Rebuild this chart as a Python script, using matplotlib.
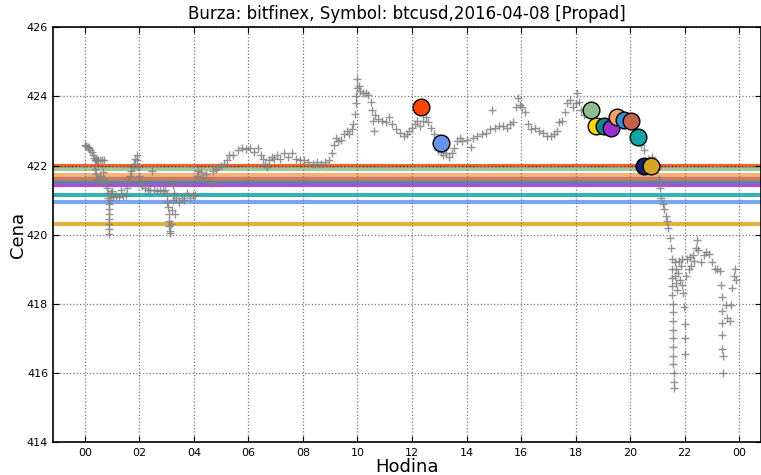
import matplotlib
matplotlib.use("Agg")
import matplotlib.pyplot as plt

# price samples (hour of day, price)
hours = [0.00, 0.05, 0.10, 0.15, 0.20, 0.25, 0.30, 0.33, 0.36, 0.40, 0.45, 0.50, 0.55, 0.62, 0.70,
         0.38, 0.42, 0.45, 0.50, 0.55, 0.60, 0.66, 0.72, 0.78, 0.82, 0.85, 0.86, 0.87, 0.87, 0.88,
         0.88, 0.89, 0.89, 0.90, 0.92, 0.95, 1.00, 1.05, 1.15, 1.25, 1.32, 1.40, 1.50, 1.55, 1.60,
         1.65, 1.70, 1.75, 1.80, 1.85, 1.90, 1.93, 1.96, 2.00, 2.05, 2.10, 2.20, 2.30, 2.40, 2.45,
         2.55, 2.65, 2.75, 2.85, 2.95, 3.00, 3.03, 3.05, 3.07, 3.09, 3.10, 3.12, 3.14, 3.16, 3.18,
         3.22, 3.25, 3.27, 3.32, 3.35, 3.45, 3.55, 3.65, 3.75, 3.85, 3.95, 4.05, 4.10, 4.15, 4.25,
         4.35, 4.45, 4.55, 4.62, 4.70, 4.80, 4.90, 5.00, 5.10, 5.20, 5.30, 5.45, 5.60, 5.75, 5.90,
         6.05, 6.20, 6.35, 6.45, 6.55, 6.62, 6.68, 6.75, 6.85, 6.95, 7.05, 7.15, 7.30, 7.45, 7.60,
         7.75, 7.90, 8.05, 8.20, 8.35, 8.50, 8.65, 8.80, 8.95, 9.05, 9.12, 9.20, 9.30, 9.40, 9.50,
         9.60, 9.70, 9.78, 9.85, 9.90, 9.93, 9.96, 9.98, 10.00, 10.05, 10.10, 10.20, 10.30, 10.40, 10.48,
         10.52, 10.56, 10.60, 10.65, 10.75, 10.90, 11.05, 11.15, 11.25, 11.40, 11.55, 11.70, 11.80, 11.90, 12.00,
         12.10, 12.20, 12.30, 12.40, 12.50, 12.60, 12.70, 12.80, 12.88, 12.95, 13.05, 13.15, 13.25, 13.35, 13.45,
         13.55, 13.65, 13.75, 13.85, 14.00, 14.15, 14.25, 14.40, 14.55, 14.70, 14.85, 14.95, 15.05, 15.20, 15.35,
         15.50, 15.60, 15.70, 15.80, 15.88, 15.95, 16.05, 16.15, 16.25, 16.35, 16.50, 16.65, 16.80, 16.95, 17.10,
         17.20, 17.30, 17.40, 17.50, 17.60, 17.70, 17.80, 17.90, 18.00, 18.05, 18.12, 18.20, 18.30, 18.40, 18.55,
         18.70, 18.90, 19.10, 19.30, 19.50, 19.70, 19.90, 20.10, 20.25, 20.40, 20.50, 20.65, 20.80, 20.90, 21.00,
         21.05, 21.10, 21.15, 21.20, 21.25, 21.30, 21.35, 21.40, 21.45, 21.50, 21.52, 21.53, 21.54, 21.55, 21.55,
         21.56, 21.56, 21.57, 21.57, 21.58, 21.58, 21.59, 21.59, 21.60, 21.60, 21.61, 21.63, 21.65, 21.68, 21.70,
         21.72, 21.75, 21.78, 21.82, 21.85, 21.90, 21.92, 21.95, 21.97, 22.00, 22.01, 22.02, 22.05, 22.10, 22.15,
         22.20, 22.25, 22.30, 22.35, 22.40, 22.45, 22.50, 22.60, 22.70, 22.80, 22.90, 23.00, 23.10, 23.20, 23.30,
         23.35, 23.36, 23.37, 23.37, 23.38, 23.38, 23.39, 23.40, 23.50, 23.55, 23.65, 23.70, 23.75, 23.80, 23.85,
         23.88]
prices = [422.58, 422.56, 422.55, 422.50, 422.45, 422.40, 422.30, 422.22, 422.16, 422.15, 422.16, 422.15, 422.16, 422.15, 422.16,
          421.90, 421.75, 421.60, 421.55, 421.70, 421.55, 421.80, 421.60, 421.50, 421.35, 421.20, 421.05, 420.90, 420.75, 420.60,
          420.45, 420.30, 420.15, 420.02, 421.00, 421.20, 421.25, 421.10, 421.12, 421.10, 421.28, 421.12, 421.15, 421.35, 421.55,
          421.70, 421.85, 421.95, 422.05, 422.20, 422.30, 422.15, 421.95, 421.70, 421.50, 421.40, 421.35, 421.30, 421.30, 421.85,
          421.28, 421.25, 421.28, 421.25, 421.30, 421.15, 420.95, 420.80, 420.60, 420.40, 420.25, 420.10, 420.05, 420.30, 420.70,
          421.00, 421.45, 421.20, 420.60, 421.05, 420.95, 421.05, 421.00, 421.20, 421.05, 421.15, 421.15, 421.70, 421.85, 421.80,
          421.65, 421.75, 421.55, 421.50, 421.85, 421.90, 421.95, 422.00, 422.05, 422.15, 422.30, 422.30, 422.45, 422.50, 422.48,
          422.50, 422.40, 422.50, 422.30, 422.20, 422.05, 421.95, 422.15, 422.25, 422.20, 422.30, 422.20, 422.35, 422.25, 422.35,
          422.20, 422.15, 422.15, 422.10, 422.05, 422.10, 422.05, 422.10, 422.15, 422.35, 422.60, 422.80, 422.70, 422.75, 422.90,
          423.00, 422.90, 423.05, 423.20, 423.50, 423.80, 424.00, 424.25, 424.50, 424.30, 424.15, 424.10, 424.10, 424.05, 423.85,
          423.60, 423.30, 423.00, 423.45, 423.35, 423.30, 423.25, 423.40, 423.20, 423.05, 422.95, 422.85, 422.90, 423.00, 423.10,
          423.20, 423.30, 423.15, 423.30, 423.40, 423.25, 423.10, 422.90, 422.65, 422.45, 422.40, 422.30, 422.35, 422.25, 422.35,
          422.50, 422.70, 422.80, 422.70, 422.75, 422.55, 422.80, 422.85, 422.90, 422.95, 423.05, 423.60, 423.10, 423.15, 423.15,
          423.10, 423.20, 423.25, 423.70, 423.95, 423.75, 423.70, 423.55, 423.20, 423.05, 423.10, 423.00, 422.95, 422.85, 422.85,
          422.90, 423.00, 423.25, 423.30, 423.55, 423.80, 423.90, 423.70, 423.80, 424.10, 423.85, 423.60, 423.45, 423.55, 423.60,
          423.35, 423.25, 423.15, 423.05, 423.30, 423.35, 423.20, 423.10, 422.80, 422.60, 422.45, 422.20, 422.25, 422.05, 421.90,
          421.60, 421.35, 421.05, 420.90, 420.75, 420.55, 420.40, 420.20, 419.90, 419.60, 419.30, 419.00, 418.75, 418.50, 418.25,
          418.00, 417.75, 417.50, 417.25, 417.00, 416.75, 416.50, 416.25, 416.00, 415.75, 415.55, 418.80, 419.20, 418.60, 419.00,
          418.40, 418.90, 419.25, 418.70, 419.10, 418.55, 419.30, 418.30, 417.90, 417.40, 417.00, 416.55, 418.80, 419.30, 419.00,
          419.35, 419.10, 419.40, 419.25, 419.60, 419.85, 419.55, 419.20, 419.40, 419.50, 419.45, 419.20, 419.00, 419.00, 418.95,
          418.55, 418.20, 417.80, 417.45, 417.10, 416.70, 416.50, 416.00, 417.95, 417.60, 417.50, 417.95, 418.45, 418.80, 419.00,
          418.70]

# support / resistance levels
level_prices = [422.00, 421.91, 421.72, 421.62, 421.52, 421.45, 421.15, 420.94, 420.32]
level_colors = ["orangered", "darkseagreen", "sandybrown", "#C4624A", "#0E8C8C",
                "darkorchid", "#12A5A5", "cornflowerblue", "goldenrod"]

# signal points
sig_hours = [12.32, 13.06, 18.55, 18.75, 19.03, 19.29, 19.52, 19.76, 20.04, 20.29, 20.51, 20.78]
sig_prices = [423.68, 422.64, 423.61, 423.15, 423.15, 423.08, 423.40, 423.33, 423.30, 422.83, 421.99, 421.99]
sig_colors = ["orangered", "cornflowerblue", "darkseagreen", "gold", "#0E8C8C", "darkorchid",
              "sandybrown", "#2E8FD8", "#C4624A", "#12A5A5", "#15216B", "goldenrod"]

xticks = list(range(0, 25, 2))
xlabels = ["%02d" % (h % 24) for h in xticks]

fig = plt.figure(figsize=(7.61, 4.75), dpi=100)
ax = fig.add_axes([0.0696, 0.0695, 0.9304, 0.873])

for p, c in zip(level_prices, level_colors):
    lw = 1.5 if p == 421.52 else 3
    ax.axhline(p, color=c, lw=lw, alpha=0.85, zorder=1)
ax.axhline(level_prices[0], color="#7a1a00", lw=1, ls=":", zorder=1)

ax.plot(hours, prices, "+", color="grey", ms=6, mew=1, alpha=0.85, zorder=2)

for h, p, c in zip(sig_hours, sig_prices, sig_colors):
    ax.plot(h, p, "o", color=c, ms=12, mec="black", mew=1, zorder=3)

ax.set_xlim(-1.17, 24.8)
ax.set_ylim(414, 426)
ax.set_xticks(xticks)
ax.set_xticklabels(xlabels)
ax.set_yticks(range(414, 427, 2))
ax.tick_params(direction="in", top=True, right=True, labelsize=8, length=4)
ax.tick_params(axis="x", pad=4)
ax.grid(True, color="#777777", ls=":", lw=0.9)
for s in ax.spines.values():
    s.set_linewidth(1.2)

ax.set_title("Burza: bitfinex, Symbol: btcusd,2016-04-08 [Propad]", fontsize=12)
ax.set_xlabel("Hodina", fontsize=13, labelpad=0)
ax.set_ylabel("Cena", fontsize=13, labelpad=0)

fig.savefig("out.png", dpi=100)
